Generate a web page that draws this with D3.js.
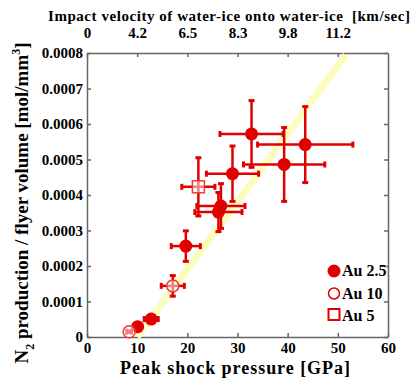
<!DOCTYPE html>
<html lang="en">
<head>
<meta charset="utf-8">
<title>N2 production vs peak shock pressure</title>
<script src="https://d3js.org/d3.v7.min.js"></script>
<style>
  body { margin: 0; background: #fff; }
  text { font-family: "Liberation Serif", "Times New Roman", serif; font-weight: bold; fill: #000; }
  .axis path, .axis line { stroke: #666; stroke-width: 1.5px; }
  .axis text { font-size: 15px; }
</style>
</head>
<body>
<svg width="420" height="379"></svg>
<script>
// Au 2.5 (filled circles): peak pressure [GPa], N2 per volume [mol/mm3], errors
const au25P  = [32.8, 29.0, 39.3, 43.5, 26.7, 26.2, 19.7, 12.8, 10.1];
const au25N  = [0.000572, 0.000460, 0.000486, 0.000542, 0.000369, 0.000352, 0.000256, 0.0000505, 0.000029];
const au25Pe = [6.3, 5.2, 8.1, 9.5, 4.8, 4.7, 2.9, 1.4, 0.5];
const au25Ne = [0.000094, 0.000078, 0.000104, 0.000107, 0.000063, 0.000055, 0.000043, 0.000005, 0.000003];

// Au 10 (open circles)
const au10P  = [17.1, 8.4];
const au10N  = [0.000144, 0.000015];
const au10Pe = [2.3, 0.5];
const au10Ne = [0.000029, 0.000002];

// Au 5 (open square)
const au5P  = [22.2];
const au5N  = [0.000423];
const au5Pe = [3.3];
const au5Ne = [0.000082];

// fitted trend (yellow band)
const fitP = [10, 51.6];
const fitN = [0, 0.000794];

// axes
const xTicks = [0, 10, 20, 30, 40, 50, 60];
const yTicks = [0, 0.0001, 0.0002, 0.0003, 0.0004, 0.0005, 0.0006, 0.0007, 0.0008];
const topTicks = [0, 10, 20, 30, 40, 50];
const topLabels = ["0", "4.2", "6.5", "8.3", "9.8", "11.2"];

const legendNames = ["Au 2.5", "Au 10", "Au 5"];

const svg = d3.select("svg");
const mLeft = 87, mRight = 388, mTop = 53, mBottom = 337;

const x = d3.scaleLinear().domain([0, 60]).range([mLeft, mRight]);
const y = d3.scaleLinear().domain([0, 0.0008]).range([mBottom, mTop]);

const red = "#e00000";
const lightRed = "#f03a3a";

// axes
svg.append("g").attr("class", "axis")
  .attr("transform", `translate(0,${mBottom})`)
  .call(d3.axisBottom(x).tickValues(xTicks).tickSize(-4).tickSizeOuter(0).tickPadding(5).tickFormat(d3.format("d")));

svg.append("g").attr("class", "axis")
  .attr("transform", `translate(${mLeft},0)`)
  .call(d3.axisLeft(y).tickValues(yTicks).tickSize(-4).tickSizeOuter(0).tickPadding(4)
    .tickFormat(d => d === 0 ? "0" : d3.format(".4f")(d)));

svg.append("g").attr("class", "axis")
  .attr("transform", `translate(0,${mTop})`)
  .call(d3.axisTop(x).tickValues(topTicks).tickSize(-4).tickSizeOuter(0).tickPadding(15)
    .tickFormat((d, i) => topLabels[i]));

svg.append("g").attr("class", "axis")
  .attr("transform", `translate(${mRight},0)`)
  .call(d3.axisRight(y).tickValues(yTicks).tickSize(-4).tickSizeOuter(0).tickFormat(""));

svg.selectAll(".axis").attr("font-family", null).attr("font-size", null);

// fit band
const fitData = fitP.map((p, i) => [p, fitN[i]]);
svg.append("path")
  .attr("d", d3.line().x(d => x(d[0])).y(d => y(d[1]))(fitData))
  .attr("stroke", "#fcfcbc")
  .attr("stroke-width", 7)
  .attr("fill", "none");

function toRows(P, N, Pe, Ne) {
  return P.map((p, i) => ({ p: p, n: N[i], pe: Pe[i], ne: Ne[i] }));
}
const rows25 = toRows(au25P, au25N, au25Pe, au25Ne);
const rows10 = toRows(au10P, au10N, au10Pe, au10Ne);
const rows5 = toRows(au5P, au5N, au5Pe, au5Ne);
const allRows = rows25.concat(rows10, rows5);

// error bars
const eb = svg.append("g").attr("stroke", red).attr("stroke-width", 2.5);
allRows.forEach(d => {
  const cx = x(d.p), cy = y(d.n);
  const x0 = x(d.p - d.pe), x1 = x(d.p + d.pe);
  const y0 = y(d.n - d.ne), y1 = y(d.n + d.ne);
  eb.append("line").attr("x1", x0).attr("x2", x1).attr("y1", cy).attr("y2", cy);
  eb.append("line").attr("x1", cx).attr("x2", cx).attr("y1", y0).attr("y2", y1);
  // caps
  [x0, x1].forEach(v => eb.append("line").attr("x1", v).attr("x2", v)
    .attr("y1", cy - 3).attr("y2", cy + 3).attr("stroke-width", 3));
  [y0, y1].forEach(v => eb.append("line").attr("y1", v).attr("y2", v)
    .attr("x1", cx - 3).attr("x2", cx + 3).attr("stroke-width", 3));
});

// markers
svg.append("g").selectAll("circle").data(rows25).enter().append("circle")
  .attr("cx", d => x(d.p)).attr("cy", d => y(d.n)).attr("r", 6.5)
  .attr("fill", red);

svg.append("g").selectAll("circle").data(rows10).enter().append("circle")
  .attr("cx", d => x(d.p)).attr("cy", d => y(d.n)).attr("r", 6)
  .attr("fill", "rgba(255,255,255,0.5)").attr("stroke", lightRed).attr("stroke-width", 1.5);

svg.append("g").selectAll("rect").data(rows5).enter().append("rect")
  .attr("x", d => x(d.p) - 6).attr("y", d => y(d.n) - 6).attr("width", 12).attr("height", 12)
  .attr("fill", "rgba(255,255,255,0.5)").attr("stroke", lightRed).attr("stroke-width", 1.5);

// legend
const leg = svg.append("g").attr("transform", "translate(334,271)");
leg.append("circle").attr("cx", 0).attr("cy", 0).attr("r", 6.5).attr("fill", red);
leg.append("circle").attr("cx", 0).attr("cy", 22.5).attr("r", 5.5)
  .attr("fill", "#fff").attr("stroke", red).attr("stroke-width", 1.5);
leg.append("rect").attr("x", -5.5).attr("y", 38).attr("width", 11).attr("height", 11)
  .attr("fill", "#fff").attr("stroke", red).attr("stroke-width", 2);
leg.selectAll("text").data(legendNames).enter().append("text")
  .attr("x", 8).attr("y", (d, i) => 5 + i * 22.5)
  .attr("font-size", 16)
  .text(d => d);

// titles
svg.append("text")
  .attr("x", 48).attr("y", 21)
  .attr("font-size", 15)
  .attr("letter-spacing", 0.55)
  .style("white-space", "pre")
  .text("Impact velocity of water-ice onto water-ice  [km/sec]");

svg.append("text")
  .attr("x", 235).attr("y", 374)
  .attr("text-anchor", "middle")
  .attr("font-size", 18)
  .attr("textLength", 230)
  .attr("lengthAdjust", "spacing")
  .text("Peak shock pressure [GPa]");

const yt = svg.append("text")
  .attr("transform", "translate(28,203) rotate(-90)")
  .attr("text-anchor", "middle")
  .attr("font-size", 19);
yt.append("tspan").text("N");
yt.append("tspan").attr("dy", 6).attr("font-size", 12).text("2");
yt.append("tspan").attr("dy", -6).text(" production / flyer volume [mol/mm");
yt.append("tspan").attr("dy", -8).attr("font-size", 12).text("3");
yt.append("tspan").attr("dy", 8).text("]");
</script>
</body>
</html>
